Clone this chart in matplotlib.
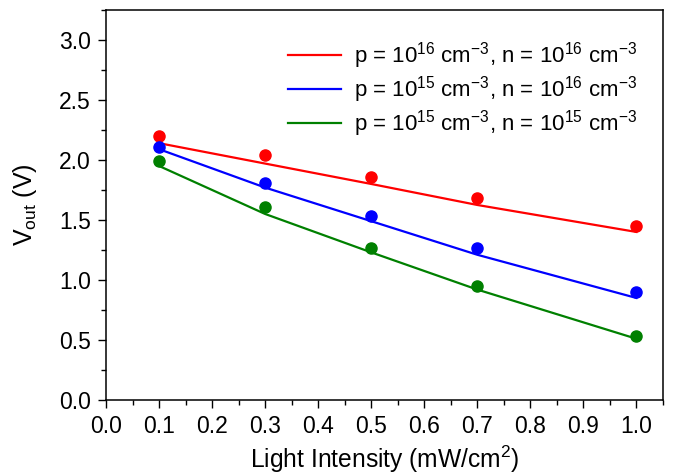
import numpy as np
import matplotlib.pyplot as plt
from matplotlib.ticker import MultipleLocator

plt.rcParams['font.family'] = ['Liberation Sans', 'DejaVu Sans']
plt.rcParams['mathtext.fontset'] = 'custom'
plt.rcParams['mathtext.rm'] = 'Liberation Sans'
plt.rcParams['mathtext.it'] = 'Liberation Sans'

# light intensity (mW/cm^2)
intensity = [0.1, 0.3, 0.5, 0.7, 1.0]

# measured points
vout_p16_n16 = [2.20, 2.04, 1.86, 1.68, 1.45]
vout_p15_n16 = [2.11, 1.81, 1.53, 1.27, 0.90]
vout_p15_n15 = [1.99, 1.61, 1.27, 0.95, 0.53]

# model curves
model_p16_n16 = [2.14, 1.97, 1.80, 1.625, 1.40]
model_p15_n16 = [2.09, 1.77, 1.49, 1.21, 0.85]
model_p15_n15 = [1.95, 1.55, 1.23, 0.92, 0.51]

labels = [r'p = 10$^{16}$ cm$^{-3}$, n = 10$^{16}$ cm$^{-3}$',
          r'p = 10$^{15}$ cm$^{-3}$, n = 10$^{16}$ cm$^{-3}$',
          r'p = 10$^{15}$ cm$^{-3}$, n = 10$^{15}$ cm$^{-3}$']
colors = ['#ff0000', '#0000ff', '#008000']

fig = plt.figure(figsize=(6.73, 4.75), dpi=100)
ax = fig.add_axes([0.1575, 0.158, 0.8275, 0.821])

points = [vout_p16_n16, vout_p15_n16, vout_p15_n15]
models = [model_p16_n16, model_p15_n16, model_p15_n15]
for pts, mod, col, lab in zip(points, models, colors, labels):
    ax.plot(intensity, mod, color=col, lw=1.6, label=lab)
    ax.plot(intensity, pts, 'o', color=col, ms=8, label='_nolegend_')

ax.set_xlim(0, 1.05)
ax.set_ylim(0, 3.25)
ax.xaxis.set_major_locator(MultipleLocator(0.1))
ax.xaxis.set_minor_locator(MultipleLocator(0.05))
ax.yaxis.set_major_locator(MultipleLocator(0.5))
ax.yaxis.set_minor_locator(MultipleLocator(0.25))
ax.xaxis.set_major_formatter(plt.FormatStrFormatter('%.1f'))
ax.yaxis.set_major_formatter(plt.FormatStrFormatter('%.1f'))
ax.tick_params(which='major', length=6, width=1, labelsize=16.5, direction='out', pad=5)
ax.tick_params(which='minor', length=3.5, width=1, direction='out')
for s in ax.spines.values():
    s.set_linewidth(1.1)

ax.set_xlabel(r'Light Intensity (mW/cm$^2$)', fontsize=17.7, labelpad=4)
ax.set_ylabel(r'V$_{\mathrm{out}}$ (V)', fontsize=18, labelpad=14)

# legend shows the model lines only
ax.legend(loc='upper right', bbox_to_anchor=(0.993, 0.98), frameon=False,
          fontsize=16, handlelength=2.4, labelspacing=0.15, borderaxespad=0.6,
          handletextpad=0.55)

fig.savefig('out.png', dpi=100)
